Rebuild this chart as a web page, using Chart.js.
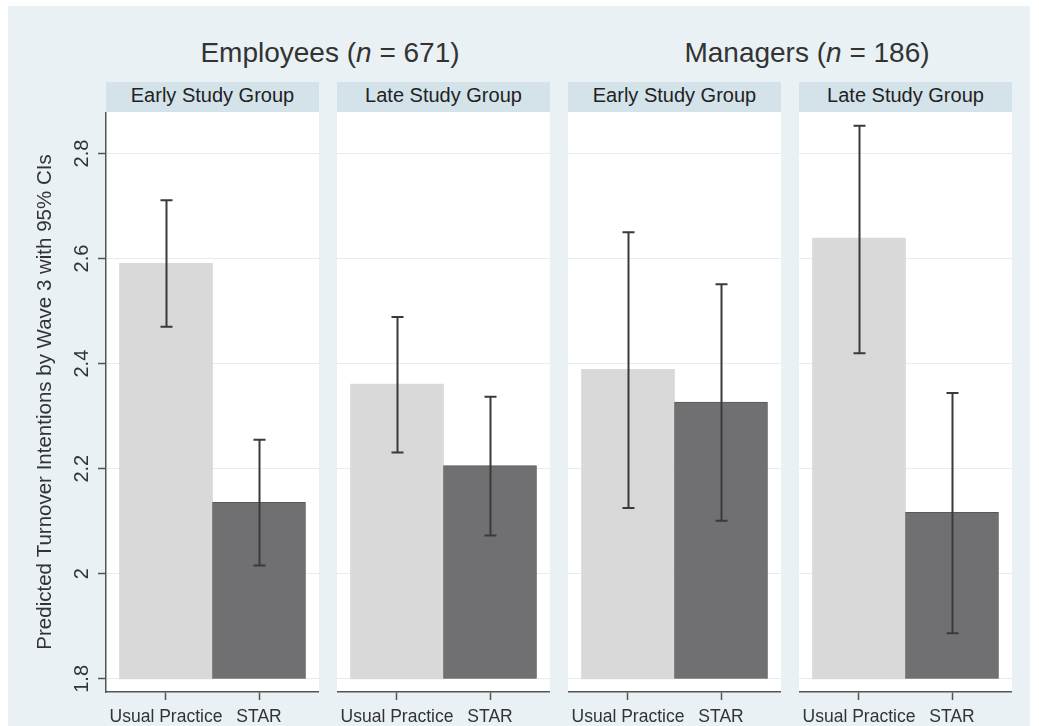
<!DOCTYPE html>
<html>
<head>
<meta charset="utf-8">
<title>Predicted turnover intentions</title>
<script src="https://cdn.jsdelivr.net/npm/chart.js@4.4.1/dist/chart.umd.min.js"></script>
<style>
  body { margin: 0; background: #fff; font-family: "Liberation Sans", Arial, sans-serif; }
  #fig { position: relative; width: 1039px; height: 726px; overflow: hidden; }
  #bg { position: absolute; left: 8px; top: 6px; width: 1022px; height: 720px; background: #e9f1f4; }
  .title { position: absolute; top: 39px; font-size: 28px; line-height: 28px; color: #333; white-space: nowrap; transform: translateX(-50%); }
  .strip { position: absolute; top: 82px; height: 30px; width: 213px; background: #d4e2ea; color: #222; font-size: 20px; line-height: 26px; text-align: center; }
  .panel { position: absolute; top: 112px; height: 614px; }
</style>
</head>
<body>
<div id="fig">
  <div id="bg"></div>
</div>
<script>
// data
const categories = ['Usual Practice', 'STAR'];
const studyGroups = ['Early Study Group', 'Late Study Group', 'Early Study Group', 'Late Study Group'];
const samples = ['Employees', 'Managers'];
const sampleSizes = [671, 186];
const usualMean = [2.591, 2.361, 2.389, 2.639];
const usualLow  = [2.470, 2.231, 2.125, 2.420];
const usualHigh = [2.711, 2.489, 2.650, 2.853];
const starMean  = [2.136, 2.206, 2.327, 2.117];
const starLow   = [2.016, 2.073, 2.101, 1.887];
const starHigh  = [2.255, 2.337, 2.551, 2.344];
const yTicks = [1.8, 2, 2.2, 2.4, 2.6, 2.8];
const barBase = 1.8;
const yTitle = 'Predicted Turnover Intentions by Wave 3 with 95% CIs';

// layout
const panelLeft = [106, 337, 568, 799];
const panelWidth = 213;
const yAxisWidth = 106;
const titleCenter = [330, 807];
const font = '"Liberation Sans", Arial, sans-serif';
const ink = '#333';

const fig = document.getElementById('fig');

samples.forEach((s, i) => {
  const t = document.createElement('div');
  t.className = 'title';
  t.style.left = titleCenter[i] + 'px';
  t.innerHTML = s + ' (<i>n</i> = ' + sampleSizes[i] + ')';
  fig.appendChild(t);
});

// white plotting region
const plotBg = {
  id: 'plotBg',
  beforeDraw(chart) {
    const a = chart.chartArea;
    chart.ctx.save();
    chart.ctx.fillStyle = '#fff';
    chart.ctx.fillRect(a.left, a.top, a.right - a.left, a.bottom - a.top);
    chart.ctx.restore();
  }
};

// 95% CI whiskers
const errorBars = {
  id: 'errorBars',
  afterDatasetsDraw(chart) {
    const { ctx, scales: { x, y } } = chart;
    const ds = chart.data.datasets[0];
    ctx.save();
    ctx.strokeStyle = '#3a3a3a';
    ctx.lineWidth = 2;
    ds.ci.forEach((c, i) => {
      const px = Math.round(x.getPixelForValue(ds.data[i].x)) + 0.5;
      const hi = y.getPixelForValue(c[1]);
      const lo = y.getPixelForValue(c[0]);
      ctx.beginPath();
      ctx.moveTo(px, hi); ctx.lineTo(px, lo);
      ctx.moveTo(px - 6, hi); ctx.lineTo(px + 6, hi);
      ctx.moveTo(px - 6, lo); ctx.lineTo(px + 6, lo);
      ctx.stroke();
    });
    ctx.restore();
  }
};

studyGroups.forEach((g, i) => {
  const first = i === 0;

  const strip = document.createElement('div');
  strip.className = 'strip';
  strip.style.left = panelLeft[i] + 'px';
  strip.textContent = g;
  fig.appendChild(strip);

  const wrap = document.createElement('div');
  wrap.className = 'panel';
  wrap.style.left = (first ? panelLeft[i] - yAxisWidth : panelLeft[i]) + 'px';
  wrap.style.width = (first ? panelWidth + yAxisWidth : panelWidth) + 'px';
  const canvas = document.createElement('canvas');
  wrap.appendChild(canvas);
  fig.appendChild(wrap);

  new Chart(canvas, {
    type: 'bar',
    data: {
      datasets: [{
        data: [
          { x: 0, y: [barBase, usualMean[i]] },
          { x: 1, y: [barBase, starMean[i]] }
        ],
        ci: [[usualLow[i], usualHigh[i]], [starLow[i], starHigh[i]]],
        backgroundColor: ['#d9d9d9', '#707072'],
        borderColor: ['#d9d9d9', '#59595b'],
        borderWidth: [0, 1],
        categoryPercentage: 1,
        barPercentage: 1
      }]
    },
    options: {
      responsive: true,
      maintainAspectRatio: false,
      animation: false,
      layout: { padding: 0 },
      plugins: { legend: { display: false }, tooltip: { enabled: false } },
      scales: {
        x: {
          type: 'linear',
          min: -0.645,
          max: 1.645,
          offset: false,
          afterBuildTicks: (axis) => { axis.ticks = categories.map((c, k) => ({ value: k })); },
          afterFit: (axis) => { axis.height = 34; axis.paddingLeft = 0; axis.paddingRight = 0; },
          grid: { offset: false, drawOnChartArea: false, drawTicks: true, tickLength: 8, tickColor: '#555', tickWidth: 1.5 },
          border: { color: '#555', width: 1.5 },
          ticks: {
            autoSkip: false,
            maxRotation: 0,
            padding: 7,
            color: ink,
            font: { family: font, size: 17.5 },
            callback: (v) => categories[v]
          }
        },
        y: {
          min: 1.775,
          max: 2.879,
          beginAtZero: false,
          afterBuildTicks: (axis) => { axis.ticks = yTicks.map(v => ({ value: v })); },
          afterFit: (axis) => {
            axis.width = first ? yAxisWidth : 0;
            axis.paddingTop = 0; axis.paddingBottom = 0;
          },
          grid: { color: '#e4edf1', lineWidth: 1, drawTicks: first, tickLength: 8, tickColor: '#555', tickWidth: 1.5 },
          border: { display: first, color: '#555', width: 1.5 },
          title: {
            display: first,
            text: yTitle,
            color: ink,
            font: { family: font, size: 20.5 },
            padding: { top: 33, bottom: 0 }
          },
          ticks: {
            display: first,
            minRotation: 90,
            maxRotation: 90,
            crossAlign: 'center',
            padding: 2,
            color: ink,
            font: { family: font, size: 20 },
            callback: (v) => String(Number(v.toFixed(1)))
          }
        }
      }
    },
    plugins: [plotBg, errorBars]
  });
});
</script>
</body>
</html>
